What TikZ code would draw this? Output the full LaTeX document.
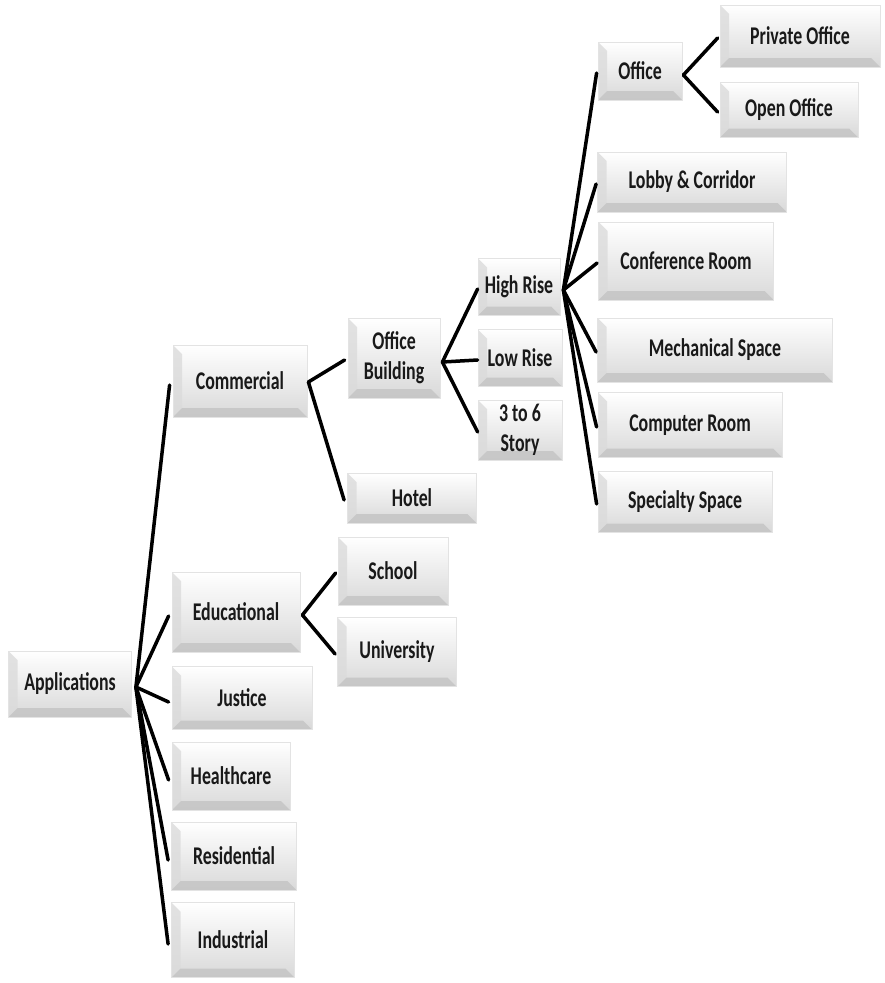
\documentclass[tikz,border=0pt]{standalone}
\usepackage{fontspec}
\setmainfont{Carlito}[FakeStretch=0.7]
\usetikzlibrary{calc}

\tikzset{
  % bevelled label box: light gradient face, darker left and bottom bevels
  box/.style={
    draw=gray!22, line width=0.8pt, inner sep=2pt, align=center,
    font=\fontsize{25.5}{30}\selectfont\bfseries, text=black!90,
    path picture={
      \path (path picture bounding box.south west) coordinate (pSW)
            (path picture bounding box.north west) coordinate (pNW)
            (path picture bounding box.south east) coordinate (pSE)
            (path picture bounding box.north east) coordinate (pNE);
      \shade[top color=white, bottom color=gray!30] (pSW) rectangle (pNE);
      \fill[gray!28, opacity=0.8] (pNW) -- ([shift={(9pt,-9pt)}]pNW)
            -- ([shift={(9pt,9pt)}]pSW) -- (pSW) -- cycle;
      \fill[gray!45, opacity=0.9] (pSW) -- ([shift={(9pt,9pt)}]pSW)
            -- ([shift={(-9pt,9pt)}]pSE) -- (pSE) -- cycle;
      \fill[white, opacity=0.7] (pNW) -- (pNE) -- ([shift={(-2pt,-3pt)}]pNE)
            -- ([shift={(9pt,-3pt)}]pNW) -- cycle;
    }
  },
  link/.style={draw=black, line width=3.5pt, line cap=round}
}

\begin{document}
\begin{tikzpicture}[x=1pt, y=-1pt]
\useasboundingbox (0,0) rectangle (884,983);

% level 0
\node[box, minimum width=123pt, minimum height=66pt] (app) at (70,684) {Applications};

% level 1
\node[box, minimum width=134pt, minimum height=72pt] (comm) at (240,381) {Commercial};
\node[box, minimum width=128pt, minimum height=80pt] (edu)  at (236,612) {Educational};
\node[box, minimum width=140pt, minimum height=63pt] (just) at (242,698) {Justice};
\node[box, minimum width=118pt, minimum height=68pt] (heal) at (231,776) {Healthcare};
\node[box, minimum width=125pt, minimum height=68pt] (resi) at (234,856) {Residential};
\node[box, minimum width=123pt, minimum height=75pt] (indu) at (233,940) {Industrial};

% commercial branch
\node[box, minimum width=92pt,  minimum height=80pt] (offb)  at (394,358) {Office\\Building};
\node[box, minimum width=129pt, minimum height=50pt] (hotel) at (412,498) {Hotel};

% educational branch
\node[box, minimum width=110pt, minimum height=68pt] (school) at (393,571) {School};
\node[box, minimum width=119pt, minimum height=69pt] (univ)   at (397,652) {University};

% office building branch
\node[box, minimum width=82pt, minimum height=57pt] (high) at (519,287) {High Rise};
\node[box, minimum width=84pt, minimum height=57pt] (low)  at (520,358) {Low Rise};
\node[box, minimum width=84pt, minimum height=60pt, inner sep=0pt] (story) at (520,430) {3 to 6\\Story};

% high rise branch
\node[box, minimum width=84pt,  minimum height=58pt] (office) at (640,71)  {Office};
\node[box, minimum width=189pt, minimum height=60pt] (lobby)  at (692,182) {Lobby \& Corridor};
\node[box, minimum width=175pt, minimum height=78pt] (conf)   at (686,261) {Conference Room};
\node[box, minimum width=235pt, minimum height=64pt] (mech)   at (715,350) {Mechanical Space};
\node[box, minimum width=184pt, minimum height=65pt] (comp)   at (690,425) {Computer Room};
\node[box, minimum width=174pt, minimum height=61pt] (spec)   at (685,502) {Specialty Space};

% office branch
\node[box, minimum width=160pt, minimum height=62pt] (priv) at (800,36)  {Private Office};
\node[box, minimum width=138pt, minimum height=55pt] (open) at (789,110) {Open Office};

% junction points on the right of each parent
\coordinate (appJ)  at ([shift={(4pt,-3pt)}]app.east);
\coordinate (commJ) at ([shift={(1pt,-1pt)}]comm.east);
\coordinate (eduJ)  at ([shift={(2pt,-3pt)}]edu.east);
\coordinate (offbJ) at ([shift={(2pt,-4pt)}]offb.east);
\coordinate (highJ) at ([shift={(3pt,-3pt)}]high.east);
\coordinate (offJ)  at ([shift={(1pt,-4pt)}]office.east);

% connectors
\foreach \c in {comm,edu,just,heal,resi,indu}
  \draw[link] (appJ) -- ([shift={(-3pt,-4pt)}]\c.west);
\foreach \c in {offb,hotel}
  \draw[link] (commJ) -- ([shift={(-3pt,-2pt)}]\c.west);
\foreach \c in {school,univ}
  \draw[link] (eduJ) -- ([shift={(-2pt,-2pt)}]\c.west);
\foreach \c in {high,low,story}
  \draw[link] (offbJ) -- ([shift={(0pt,-2pt)}]\c.west);
\foreach \c in {office,lobby,conf,mech,comp,spec}
  \draw[link] (highJ) -- ([shift={(-1pt,-2pt)}]\c.west);
\foreach \c in {priv,open}
  \draw[link] (offJ) -- ([shift={(-2pt,-2pt)}]\c.west);
\end{tikzpicture}
\end{document}
